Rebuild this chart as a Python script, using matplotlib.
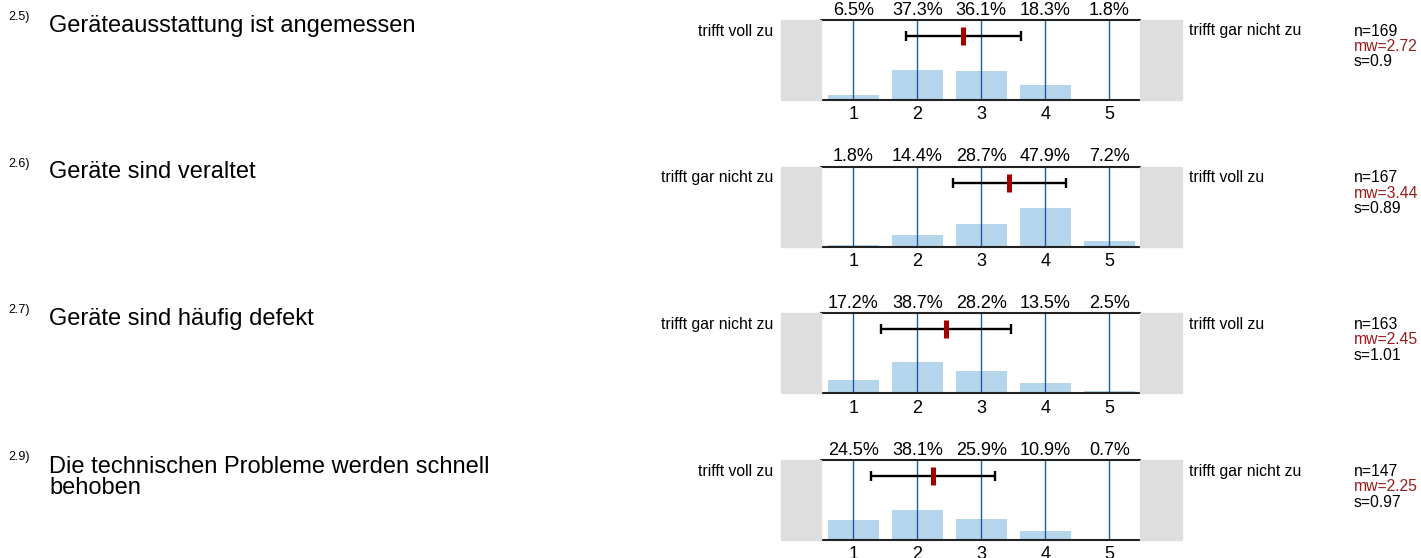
import matplotlib
matplotlib.use("Agg")
import matplotlib.pyplot as plt
from matplotlib.patches import Rectangle

plt.rcParams['font.family'] = ['Liberation Sans', 'DejaVu Sans']

# data
numbers = ["2.5)", "2.6)", "2.7)", "2.9)"]
titles = ["Geräteausstattung ist angemessen",
          "Geräte sind veraltet",
          "Geräte sind häufig defekt",
          "Die technischen Probleme werden schnell\nbehoben"]
left_labels = ["trifft voll zu", "trifft gar nicht zu", "trifft gar nicht zu", "trifft voll zu"]
right_labels = ["trifft gar nicht zu", "trifft voll zu", "trifft voll zu", "trifft gar nicht zu"]
categories = [1, 2, 3, 4, 5]
percents = [
    [6.5, 37.3, 36.1, 18.3, 1.8],
    [1.8, 14.4, 28.7, 47.9, 7.2],
    [17.2, 38.7, 28.2, 13.5, 2.5],
    [24.5, 38.1, 25.9, 10.9, 0.7],
]
n_values = [169, 167, 163, 147]
means = [2.72, 3.44, 2.45, 2.25]
stds = [0.9, 0.89, 1.01, 0.97]

W, H = 1421, 558
fig = plt.figure(figsize=(W / 100, H / 100), dpi=100)


def fx(x):
    return x / W


def fy(y):
    return 1 - y / H


bar_color = "#b4d5ec"
line_color = "#1f5c9e"
gray = "#dedede"
red = "#a50000"
dark_red = "#9b1c1c"

for i in range(4):
    top = 20 + i * 146.67
    bottom = top + 80

    # gray side boxes
    fig.patches.append(Rectangle((fx(781), fy(bottom)), fx(40), 80 / H,
                                 transform=fig.transFigure, color=gray, zorder=0))
    fig.patches.append(Rectangle((fx(1140), fy(bottom)), fx(42), 80 / H,
                                 transform=fig.transFigure, color=gray, zorder=0))

    ax = fig.add_axes([fx(821), fy(bottom), fx(319), 80 / H])
    ax.set_xlim(0.495, 5.48)
    ax.set_ylim(0, 100)
    ax.bar(categories, percents[i], width=0.8, color=bar_color, zorder=1)
    for c in categories:
        ax.axvline(c, color=line_color, lw=1.0, zorder=2)
    ax.errorbar([means[i]], [80], xerr=[stds[i]], fmt='none', ecolor='black',
                elinewidth=1.7, capsize=3.8, capthick=1.7, zorder=3)
    ax.plot([means[i]], [80], marker='|', ms=13.5, mew=3.6, color=red, zorder=4)

    for side in ['left', 'right']:
        ax.spines[side].set_visible(False)
    for side in ['top', 'bottom']:
        ax.spines[side].set_linewidth(1.5)
        ax.spines[side].set_color('#222222')
    ax.set_yticks([])
    ax.set_xticks(categories)
    ax.set_xticklabels([str(c) for c in categories], fontsize=13)
    ax.tick_params(axis='x', length=0, pad=4.5)

    for c, p in zip(categories, percents[i]):
        ax.text(c, 101.5, f"{p}%", ha='center', va='bottom', fontsize=13)

    # labels
    fig.text(fx(773), fy(top + 11), left_labels[i], ha='right', va='center', fontsize=11.3)
    fig.text(fx(1189), fy(top + 11), right_labels[i], ha='left', va='center', fontsize=11.3)
    fig.text(fx(1354), fy(top + 11), f"n={n_values[i]}", ha='left', va='center', fontsize=11.3)
    fig.text(fx(1354), fy(top + 26.5), f"mw={means[i]}", ha='left', va='center',
             fontsize=11.3, color=dark_red)
    fig.text(fx(1354), fy(top + 42), f"s={stds[i]}", ha='left', va='center', fontsize=11.3)

    fig.text(fx(8), fy(top), numbers[i], ha='left', va='baseline', fontsize=9)
    if '\n' in titles[i]:
        fig.text(fx(49), fy(top + 34), titles[i], ha='left', va='baseline', fontsize=17,
                 linespacing=0.95)
    else:
        fig.text(fx(49), fy(top + 11.7), titles[i], ha='left', va='baseline', fontsize=17)

fig.savefig("out.png", dpi=100)
